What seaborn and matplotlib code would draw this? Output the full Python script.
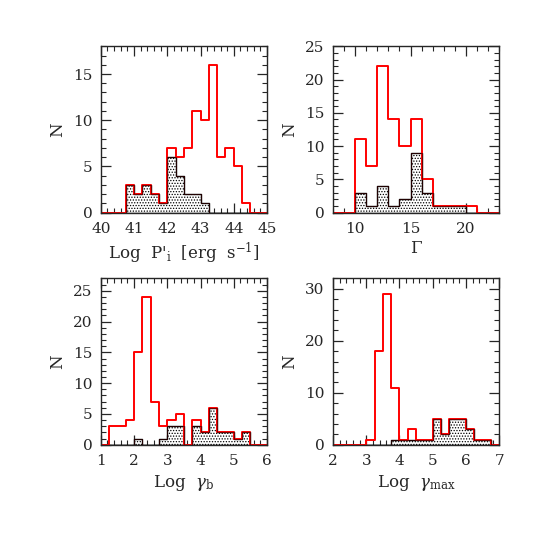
import numpy as np
import pandas as pd
import matplotlib
matplotlib.use('Agg')
import matplotlib.pyplot as plt
import seaborn as sns
from matplotlib.ticker import MultipleLocator

# counts per bin, full sample (red) and subsample (hatched)
# Log P'_i : bins of 0.25 from 40 to 45
power_all = [0, 0, 0, 3, 2, 3, 2, 1, 7, 6, 7, 11, 10, 16, 6, 7, 5, 1, 0, 0]
power_sub = [0, 0, 0, 3, 2, 3, 2, 1, 6, 4, 2, 2, 1, 0, 0, 0, 0, 0, 0, 0]

# Gamma : bins of 1 from 8 to 23
gamma_all = [0, 0, 11, 7, 22, 14, 10, 14, 5, 1, 1, 1, 1, 0, 0]
gamma_sub = [0, 0, 3, 1, 4, 1, 2, 9, 3, 1, 1, 1, 0, 0, 0]

# Log gamma_b : bins of 0.25 from 1 to 6
gb_all = [0, 3, 3, 4, 15, 24, 7, 3, 4, 5, 0, 4, 2, 6, 2, 2, 1, 2, 0, 0]
gb_sub = [0, 0, 0, 0, 1, 0, 0, 1, 3, 3, 0, 3, 2, 6, 2, 2, 1, 2, 0, 0]

# Log gamma_max : bins of 0.25 from 2 to 7
gmax_all = [0, 0, 0, 0, 1, 18, 29, 11, 1, 3, 1, 1, 5, 2, 5, 5, 3, 1, 1, 0]
gmax_sub = [0, 0, 0, 0, 0, 0, 0, 1, 1, 1, 1, 1, 5, 2, 5, 5, 3, 1, 1, 0]

sns.set_style('ticks')
plt.rcParams['font.family'] = ['DejaVu Serif']
plt.rcParams['mathtext.fontset'] = 'dejavuserif'
plt.rcParams['hatch.linewidth'] = 0.6

panels = [
    # all, sub, start, stop, width, xlabel, ymax, xmajor, xminor, ymajor, yminor
    (power_all, power_sub, 40, 45, 0.25, r"Log  P$'_{\rm i}$  [erg  s$^{-1}$]", 18, 1, 0.2, 5, 1),
    (gamma_all, gamma_sub, 8, 23, 1.0, r"$\Gamma$", 25, 5, 1, 5, 1),
    (gb_all, gb_sub, 1, 6, 0.25, r"Log  $\gamma_{\rm b}$", 27, 1, 0.2, 5, 1),
    (gmax_all, gmax_sub, 2, 7, 0.25, r"Log  $\gamma_{\rm max}$", 32, 1, 0.2, 10, 2),
]

fig = plt.figure(figsize=(5.45, 5.45), dpi=100)
positions = [
    [0.185, 0.610, 0.305, 0.305],
    [0.611, 0.610, 0.305, 0.305],
    [0.185, 0.184, 0.305, 0.305],
    [0.611, 0.184, 0.305, 0.305],
]

for pos, (c_all, c_sub, start, stop, width, xlabel, ymax, xmaj, xmin, ymaj, ymin) in zip(positions, panels):
    ax = fig.add_axes(pos)
    edges = list(np.arange(start, stop + width / 2, width))
    centers = np.array(edges[:-1]) + width / 2
    df = pd.DataFrame({'x': centers, 'all': c_all, 'sub': c_sub})
    # hatched subsample first, then the full sample outline on top
    sns.histplot(data=df, x='x', weights='sub', bins=edges, element='step', fill=True,
                 facecolor='white', edgecolor='black', hatch='......', alpha=1,
                 linewidth=1.0, ax=ax)
    sns.histplot(data=df, x='x', weights='all', bins=edges, element='step', fill=False,
                 color='red', linewidth=1.4, ax=ax)
    sns.histplot(data=df, x='x', weights='sub', bins=edges, element='step', fill=False,
                 color='#300000', linewidth=0.6, alpha=0.8, ax=ax)
    ax.set_xlim(start, stop)
    ax.set_ylim(0, ymax)
    ax.xaxis.set_major_locator(MultipleLocator(xmaj))
    ax.xaxis.set_minor_locator(MultipleLocator(xmin))
    ax.yaxis.set_major_locator(MultipleLocator(ymaj))
    ax.yaxis.set_minor_locator(MultipleLocator(ymin))
    ax.tick_params(which='both', direction='in', top=True, right=True, labelsize=11)
    ax.tick_params(which='major', length=7, width=0.9)
    ax.tick_params(which='minor', length=3.5, width=0.8)
    ax.tick_params(axis='x', which='major', pad=7)
    ax.tick_params(axis='y', which='major', pad=6)
    for s in ax.spines.values():
        s.set_linewidth(1.0)
    ax.set_xlabel(xlabel, fontsize=12, labelpad=3)
    ax.set_ylabel('N', fontsize=12, labelpad=5)

fig.savefig('out.png', dpi=100)
